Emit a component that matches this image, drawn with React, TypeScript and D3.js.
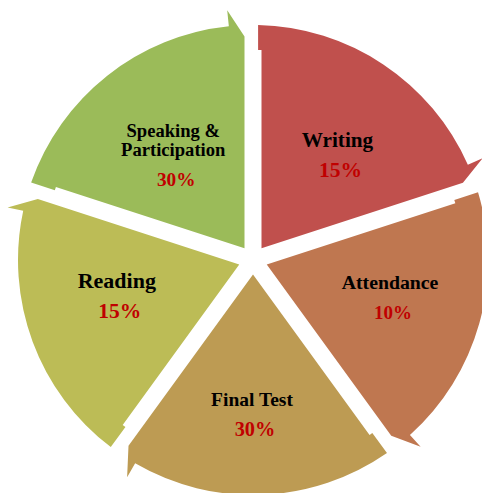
import { useMemo } from "react";
import * as d3 from "d3";

// SmartArt-style cycle of grading components (equal segments, arrow heads clockwise)
const categories = ["Writing", "Attendance", "Final Test", "Reading", "Speaking & Participation"];
const categoryLines = [["Writing"], ["Attendance"], ["Final Test"], ["Reading"], ["Speaking &", "Participation"]];
const percents = [15, 10, 30, 15, 30];

const width = 482;
const height = 493;
const cx = 253;
const cy = 260;
const radius = 235;
const gapHalf = 8.5;
const tailInset = 3.4;
const tailStep = 210;
const headOut = 16;
const headSweep = (5.9 * Math.PI) / 180;
const headBack = 223.5;
const TAU = Math.PI * 2;

// label placement tweaks (degrees off the segment's middle, radius of the name baseline)
const labelAngleShift = [0.8, -6.2, 0.4, 6.5, -1.5];
const labelRadius = [141, 140, 146, 139, 131];
const nameSize = [21.2, 19.8, 19.5, 22, 18.6];
const pctSize = [21.5, 19, 20.3, 21.5, 19.3];

const colorScale = d3
  .scaleLinear<string>()
  .domain([0, categories.length - 1])
  .range(["#C0504D", "#9BBB59"])
  .interpolate(d3.interpolateHsl);

// point at distance t along the ray at angle a (clockwise from 12 o'clock), shifted sideways by off
const pt = (a: number, t: number, off = 0): [number, number] => [
  cx + t * Math.sin(a) + off * Math.cos(a),
  cy - t * Math.cos(a) + off * Math.sin(a),
];

const segmentPath = (a0: number, a1: number) => {
  const half = (a1 - a0) / 2;
  const p = d3.path();
  const apex = pt(a0, gapHalf / Math.tan(half), gapHalf);
  p.moveTo(...apex);
  p.lineTo(...pt(a0, tailStep, gapHalf));
  const o = gapHalf - tailInset;
  p.lineTo(...pt(a0, tailStep, o));
  const tOuter = Math.sqrt(radius * radius - o * o);
  const start = pt(a0, tOuter, o);
  p.lineTo(...start);
  const startAng = Math.atan2(start[1] - cy, start[0] - cx);
  const endA = a1 - headSweep;
  let endAng = endA - Math.PI / 2;
  endAng = startAng + ((((endAng - startAng) % TAU) + TAU) % TAU);
  p.arc(cx, cy, radius, startAng, endAng, false);
  p.lineTo(...pt(endA, radius + headOut));
  p.lineTo(...pt(a1, headBack, -gapHalf));
  p.closePath();
  return p.toString();
};

export default function App() {
  const arcs = useMemo(
    () =>
      d3
        .pie<string>()
        .sort(null)
        .value(() => 1)(categories),
    []
  );

  return (
    <svg
      width={width}
      height={height}
      style={{ position: "absolute", left: 0, top: 0, display: "block", background: "#fff" }}
    >
      {arcs.map((d, i) => (
        <path key={categories[i]} d={segmentPath(d.startAngle, d.endAngle)} fill={colorScale(i)} />
      ))}
      {arcs.map((d, i) => {
        const mid = (d.startAngle + d.endAngle) / 2 + (labelAngleShift[i] * Math.PI) / 180;
        const [x, y] = pt(mid, labelRadius[i]);
        const lines = categoryLines[i];
        return (
          <g key={"lbl" + i} fontFamily="'Liberation Serif', 'Times New Roman', serif" fontWeight="bold" textAnchor="middle">
            {lines.map((line, j) => (
              <text key={j} x={x} y={y - (lines.length - 1 - j) * 19} fontSize={nameSize[i]} fill="#000">
                {line}
              </text>
            ))}
            <text x={x + 3} y={y + 30} fontSize={pctSize[i]} fill="#C00000">
              {percents[i]}%
            </text>
          </g>
        );
      })}
    </svg>
  );
}
